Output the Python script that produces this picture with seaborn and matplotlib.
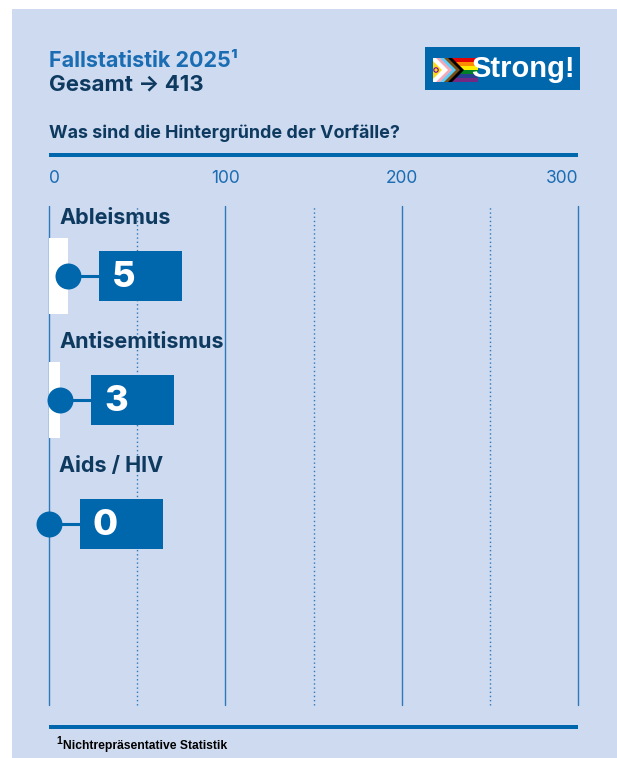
import matplotlib
matplotlib.use('Agg')
import matplotlib.pyplot as plt
from matplotlib.patches import Rectangle, Polygon, Circle
import numpy as np
import pandas as pd
import seaborn as sns

# ============ Daten ============
kategorien = ['Ableismus', 'Antisemitismus', 'Aids / HIV']
faelle = [5, 3, 0]
achse_ticks = [0, 100, 200, 300]
achse_zwischen = [50, 150, 250]
gesamt = 413

# ============ Farben ============
PANEL = '#cddaf0'
BLAU = '#0067ad'
TITELBLAU = '#1a6cb3'
NAVY = '#0e3a60'
GRID = '#2f78ba'
SCHMAL = ['Liberation Sans', 'DejaVu Sans']

sns.set_theme(style='white')
plt.rcParams['font.family'] = ['Inter', 'DejaVu Sans']

W, H = 617, 758
fig = plt.figure(figsize=(W / 100, H / 100), dpi=100)
fig.patch.set_facecolor('white')

# Deko-Ebene in Pixelkoordinaten
deco = fig.add_axes([0, 0, 1, 1], zorder=0)
deco.set_xlim(0, W)
deco.set_ylim(H, 0)
deco.axis('off')
deco.add_patch(Rectangle((12, 9), W - 12, H - 9, color=PANEL, lw=0))

deco.text(49, 61, 'Fallstatistik 2025¹', color=TITELBLAU, fontsize=15.5,
          fontweight='bold', va='center')
deco.text(49, 84, f'Gesamt → {gesamt}', color=NAVY, fontsize=16,
          fontweight='bold', va='center')
deco.text(49, 133, 'Was sind die Hintergründe der Vorfälle?', color=NAVY,
          fontsize=12.9, fontweight='bold', va='center')
deco.plot([49, 578], [155, 155], color=BLAU, lw=4 * 0.72, solid_capstyle='butt')
deco.plot([49, 578], [727, 727], color=BLAU, lw=4 * 0.72, solid_capstyle='butt')
deco.text(56, 741, '1', color='black', fontsize=7.5, fontweight='bold',
          va='center', family=SCHMAL)
deco.text(63, 746, 'Nichtrepräsentative Statistik', color='black', fontsize=8.7,
          fontweight='bold', va='center', family=SCHMAL)

# Logo "Strong!"
deco.add_patch(Rectangle((425, 47), 155, 43, color=BLAU, lw=0))
streifen = ['#e40303', '#ff8c00', '#ffed00', '#008026', '#24408e', '#732982']
for k, c in enumerate(streifen):
    deco.add_patch(Rectangle((445, 58 + k * 4), 33, 4, color=c, lw=0))
chevrons = ['#000000', '#784f17', '#5bcefa', '#f5a9b8', '#ffffff']
for k, c in enumerate(chevrons):
    ecke = 452 - k * 4
    deco.add_patch(Polygon([(433, 58), (ecke, 58), (ecke + 12, 70),
                            (ecke, 82), (433, 82)], closed=True, color=c, lw=0))
deco.add_patch(Polygon([(433, 61), (442, 70), (433, 79)], closed=True,
                       color='#fdd817', lw=0))
deco.add_patch(Circle((436, 70), 2.2, fill=False, ec='#7902aa', lw=0.8))
deco.text(523, 69, 'Strong!', color='white', fontsize=21, fontweight='bold',
          ha='center', va='center', family=SCHMAL)

# ============ Diagramm ============
links, rechts, oben, unten = 49, 578, 206, 705
ax = fig.add_axes([links / W, 1 - unten / H, (rechts - links) / W, (unten - oben) / H])
ax.set_zorder(2)
ax.patch.set_visible(False)
ax.set_xlim(0, 300)
for t in achse_ticks:
    ax.axvline(t, color=GRID, lw=1.0, clip_on=False, zorder=1)
for t in achse_zwischen:
    ax.axvline(t, color=GRID, lw=1.0, ls=(0, (1, 2)), clip_on=False, zorder=1)
for s in ax.spines.values():
    s.set_visible(False)

# Balken auf eigener Skala
ax2 = ax.twiny()
ax2.set_zorder(3)
ax2.patch.set_visible(False)
bar_max = 139
df = pd.DataFrame({'Kategorie': kategorien, 'Fälle': faelle})
sns.barplot(data=df, x='Fälle', y='Kategorie', ax=ax2, color='white',
            saturation=1, width=0.613, orient='h', linewidth=0, zorder=2)
ax2.set_xlim(0, bar_max)
ax2.set_ylim(3.46, -0.5645)
ax2.set_xticks([])
ax2.set_xlabel('')
ax2.set_ylabel('')
ax.set_ylabel('')
ax2.tick_params(left=False, labelleft=False, top=False, labeltop=False)
ax.tick_params(axis='y', left=False, labelleft=False)
for s in ax2.spines.values():
    s.set_visible(False)

# Achsenbeschriftung oben (nach twiny setzen)
ax.xaxis.set_ticks_position('top')
ax.set_xticks(achse_ticks)
ax.set_xticklabels([str(t) for t in achse_ticks])
ax.tick_params(axis='x', length=0, pad=13.5, labelsize=12.5, colors=TITELBLAU,
               labeltop=True, labelbottom=False)
for tk, ha in zip(ax.xaxis.get_major_ticks(), ['left', 'center', 'center', 'right']):
    tk.label2.set_horizontalalignment(ha)

ppu = (rechts - links) / bar_max  # Pixel pro Einheit
for i, (kat, v) in enumerate(zip(kategorien, faelle)):
    box_l = v + 31 / ppu
    ax2.plot([v, box_l], [i, i], color=BLAU, lw=2.2, zorder=4, clip_on=False)
    ax2.scatter([v], [i], s=350, color=BLAU, zorder=5, clip_on=False, linewidths=0)
    ax2.add_patch(Rectangle((box_l, i - 0.2016), 83 / ppu, 0.403, color=BLAU,
                            lw=0, zorder=4))
    ax2.text(v + 44 / ppu, i + 0.01, str(v), color='white', fontsize=26,
             fontweight='heavy', va='center', ha='left', zorder=6)
    ax2.text(10 / ppu, i - 58 / 124, kat, color=NAVY, fontsize=15.5,
             fontweight='bold', va='center', ha='left', zorder=6)

fig.savefig('out.png', dpi=100)
